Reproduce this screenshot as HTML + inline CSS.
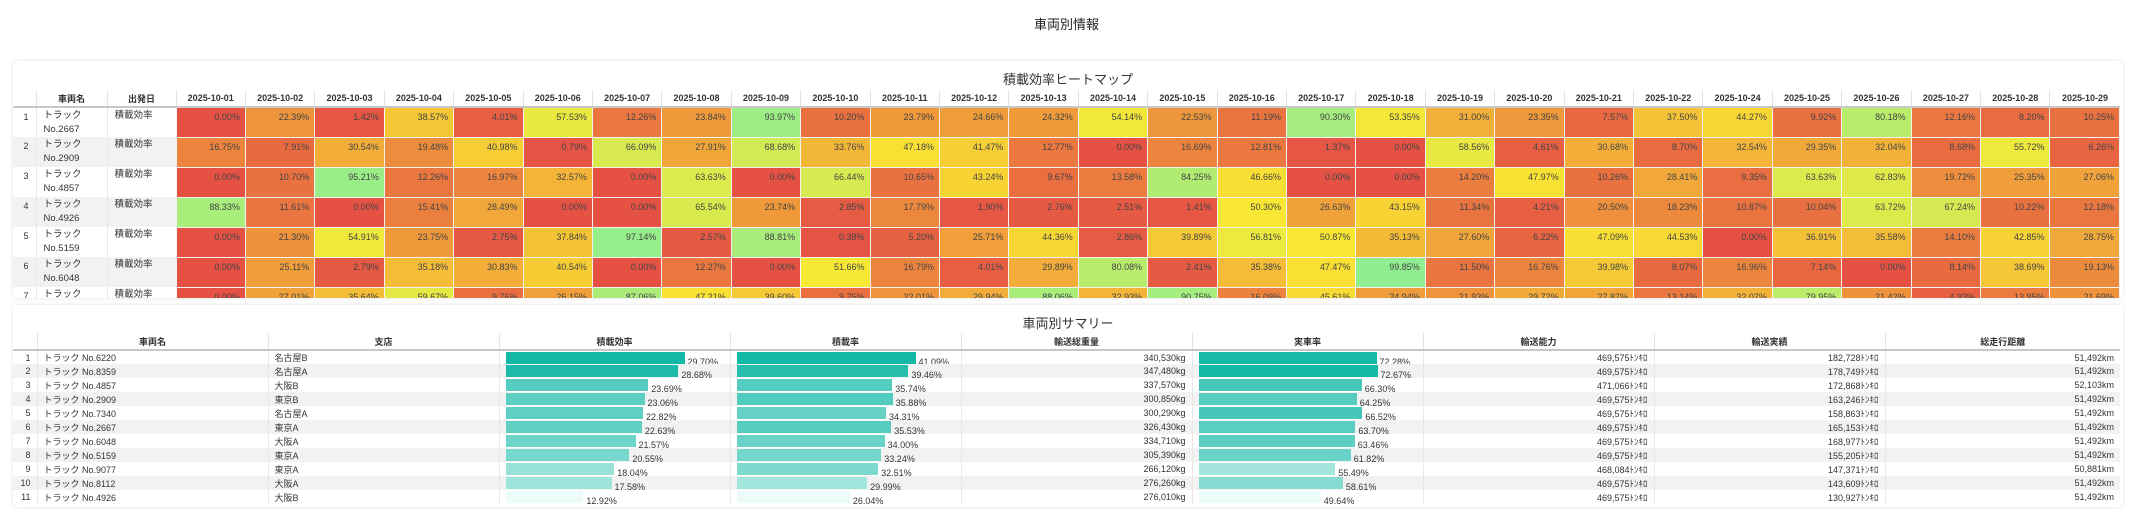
<!DOCTYPE html>
<html><head><meta charset="utf-8">
<style>
*{margin:0;padding:0;box-sizing:border-box}
body{width:2133px;height:520px;background:#fff;font-family:"Liberation Sans","Noto Sans CJK JP",sans-serif;color:#333;position:relative;overflow:hidden}
.title{position:absolute;top:14px;left:0;width:2133px;text-align:center;font-size:13px;color:#222}
.panel{position:absolute;left:13px;width:2110px;background:#fff;box-shadow:0 0 4px rgba(0,0,0,0.12);border-radius:3px;overflow:hidden}
.ptitle{position:absolute;top:8px;left:0;width:100%;text-align:center;font-size:13px;color:#333}
table{border-collapse:collapse;table-layout:fixed;position:absolute;left:0}
th{font-size:9px;font-weight:bold;color:#333;height:17px;border-left:1px solid #e4e4e4;border-bottom:2px solid #c8c8c8;text-align:center;vertical-align:middle}
th:first-child{border-left:none}
#hm tbody tr{height:30px}
#hm td{height:30px;font-size:9px;vertical-align:top;padding-top:4px;border:1px solid rgba(0,0,0,0.05);overflow:hidden}
#hm td.i{text-align:right;padding-right:7px;border:none}
#hm td.n{padding-left:7px;line-height:14px;padding-top:1px;border:none;border-left:1px solid #e8e8e8;font-size:9.5px}
#hm td.v{text-align:right;padding-right:5px;color:#444;line-height:11px}
#hm tr:nth-child(even) td.i,#hm tr:nth-child(even) td.n{background:#f2f2f2}
#sm td{height:14px;font-size:9px;vertical-align:middle;border-left:1px solid #e8e8e8;white-space:nowrap;overflow:hidden}
#sm td.i{text-align:right;padding-right:6px;border-left:none}
#sm td.t{padding-left:6px}
#sm td.r{text-align:right;padding-right:6px}
#sm tr:nth-child(even) td{background:#f2f2f2}
.b{display:inline-block;height:12px;vertical-align:middle;margin-left:6px}
.bl{display:inline-block;vertical-align:bottom;font-size:9px;margin-left:3px;line-height:10px;position:relative;top:3px}
</style></head><body>
<div class="title">車両別情報</div>

<div class="panel" style="top:61px;height:237px">
<div class="ptitle">積載効率ヒートマップ</div>
<table id="hm" style="top:29px;width:2107px">
<colgroup><col style="width:23px"><col style="width:71px"><col style="width:69px"></colgroup>
<thead><tr><th></th><th>車両名</th><th>出発日</th>
<th>2025-10-01</th><th>2025-10-02</th><th>2025-10-03</th><th>2025-10-04</th><th>2025-10-05</th><th>2025-10-06</th><th>2025-10-07</th><th>2025-10-08</th><th>2025-10-09</th><th>2025-10-10</th><th>2025-10-11</th><th>2025-10-12</th><th>2025-10-13</th><th>2025-10-14</th><th>2025-10-15</th><th>2025-10-16</th><th>2025-10-17</th><th>2025-10-18</th><th>2025-10-19</th><th>2025-10-20</th><th>2025-10-21</th><th>2025-10-22</th><th>2025-10-24</th><th>2025-10-25</th><th>2025-10-26</th><th>2025-10-27</th><th>2025-10-28</th><th>2025-10-29</th></tr></thead>
<tbody>
<tr><td class="i">1</td><td class="n">トラック<br>No.2667</td><td class="n">積載効率</td><td class="v">0.00%</td><td class="v">22.39%</td><td class="v">1.42%</td><td class="v">38.57%</td><td class="v">4.01%</td><td class="v">57.53%</td><td class="v">12.26%</td><td class="v">23.84%</td><td class="v">93.97%</td><td class="v">10.20%</td><td class="v">23.79%</td><td class="v">24.66%</td><td class="v">24.32%</td><td class="v">54.14%</td><td class="v">22.53%</td><td class="v">11.19%</td><td class="v">90.30%</td><td class="v">53.35%</td><td class="v">31.00%</td><td class="v">23.35%</td><td class="v">7.57%</td><td class="v">37.50%</td><td class="v">44.27%</td><td class="v">9.92%</td><td class="v">80.18%</td><td class="v">12.16%</td><td class="v">8.20%</td><td class="v">10.25%</td></tr>
<tr><td class="i">2</td><td class="n">トラック<br>No.2909</td><td class="n">積載効率</td><td class="v">16.75%</td><td class="v">7.91%</td><td class="v">30.54%</td><td class="v">19.48%</td><td class="v">40.98%</td><td class="v">0.79%</td><td class="v">66.09%</td><td class="v">27.91%</td><td class="v">68.68%</td><td class="v">33.76%</td><td class="v">47.18%</td><td class="v">41.47%</td><td class="v">12.77%</td><td class="v">0.00%</td><td class="v">16.69%</td><td class="v">12.81%</td><td class="v">1.37%</td><td class="v">0.00%</td><td class="v">58.56%</td><td class="v">4.61%</td><td class="v">30.68%</td><td class="v">8.70%</td><td class="v">32.54%</td><td class="v">29.35%</td><td class="v">32.04%</td><td class="v">8.68%</td><td class="v">55.72%</td><td class="v">6.26%</td></tr>
<tr><td class="i">3</td><td class="n">トラック<br>No.4857</td><td class="n">積載効率</td><td class="v">0.00%</td><td class="v">10.70%</td><td class="v">95.21%</td><td class="v">12.26%</td><td class="v">16.97%</td><td class="v">32.57%</td><td class="v">0.00%</td><td class="v">63.63%</td><td class="v">0.00%</td><td class="v">66.44%</td><td class="v">10.65%</td><td class="v">43.24%</td><td class="v">9.67%</td><td class="v">13.58%</td><td class="v">84.25%</td><td class="v">46.66%</td><td class="v">0.00%</td><td class="v">0.00%</td><td class="v">14.20%</td><td class="v">47.97%</td><td class="v">10.26%</td><td class="v">28.41%</td><td class="v">9.35%</td><td class="v">63.63%</td><td class="v">62.83%</td><td class="v">19.72%</td><td class="v">25.35%</td><td class="v">27.06%</td></tr>
<tr><td class="i">4</td><td class="n">トラック<br>No.4926</td><td class="n">積載効率</td><td class="v">88.33%</td><td class="v">11.61%</td><td class="v">0.00%</td><td class="v">15.41%</td><td class="v">28.49%</td><td class="v">0.00%</td><td class="v">0.00%</td><td class="v">65.54%</td><td class="v">23.74%</td><td class="v">2.85%</td><td class="v">17.79%</td><td class="v">1.90%</td><td class="v">2.76%</td><td class="v">2.51%</td><td class="v">1.41%</td><td class="v">50.30%</td><td class="v">26.63%</td><td class="v">43.15%</td><td class="v">11.34%</td><td class="v">4.21%</td><td class="v">20.50%</td><td class="v">18.23%</td><td class="v">10.87%</td><td class="v">10.04%</td><td class="v">63.72%</td><td class="v">67.24%</td><td class="v">10.22%</td><td class="v">12.18%</td></tr>
<tr><td class="i">5</td><td class="n">トラック<br>No.5159</td><td class="n">積載効率</td><td class="v">0.00%</td><td class="v">21.30%</td><td class="v">54.91%</td><td class="v">23.75%</td><td class="v">2.75%</td><td class="v">37.84%</td><td class="v">97.14%</td><td class="v">2.57%</td><td class="v">88.81%</td><td class="v">0.38%</td><td class="v">5.20%</td><td class="v">25.71%</td><td class="v">44.36%</td><td class="v">2.86%</td><td class="v">39.89%</td><td class="v">56.81%</td><td class="v">50.87%</td><td class="v">35.13%</td><td class="v">27.60%</td><td class="v">6.22%</td><td class="v">47.09%</td><td class="v">44.53%</td><td class="v">0.00%</td><td class="v">36.91%</td><td class="v">35.58%</td><td class="v">14.10%</td><td class="v">42.85%</td><td class="v">28.75%</td></tr>
<tr><td class="i">6</td><td class="n">トラック<br>No.6048</td><td class="n">積載効率</td><td class="v">0.00%</td><td class="v">25.11%</td><td class="v">2.79%</td><td class="v">35.18%</td><td class="v">30.83%</td><td class="v">40.54%</td><td class="v">0.00%</td><td class="v">12.27%</td><td class="v">0.00%</td><td class="v">51.66%</td><td class="v">16.79%</td><td class="v">4.01%</td><td class="v">29.89%</td><td class="v">80.08%</td><td class="v">2.41%</td><td class="v">35.38%</td><td class="v">47.47%</td><td class="v">99.85%</td><td class="v">11.50%</td><td class="v">16.76%</td><td class="v">39.98%</td><td class="v">8.07%</td><td class="v">16.96%</td><td class="v">7.14%</td><td class="v">0.00%</td><td class="v">8.14%</td><td class="v">38.69%</td><td class="v">19.13%</td></tr>
<tr><td class="i">7</td><td class="n">トラック<br>No.6220</td><td class="n">積載効率</td><td class="v">0.00%</td><td class="v">27.01%</td><td class="v">35.64%</td><td class="v">59.67%</td><td class="v">9.76%</td><td class="v">26.15%</td><td class="v">87.06%</td><td class="v">47.21%</td><td class="v">39.60%</td><td class="v">9.75%</td><td class="v">22.01%</td><td class="v">29.94%</td><td class="v">88.06%</td><td class="v">32.93%</td><td class="v">90.75%</td><td class="v">16.09%</td><td class="v">45.61%</td><td class="v">24.94%</td><td class="v">21.93%</td><td class="v">29.72%</td><td class="v">27.87%</td><td class="v">13.14%</td><td class="v">32.07%</td><td class="v">79.95%</td><td class="v">21.42%</td><td class="v">4.93%</td><td class="v">13.95%</td><td class="v">21.69%</td></tr>
</tbody></table>
</div>

<div class="panel" style="top:305px;height:202px">
<div class="ptitle">車両別サマリー</div>
<table id="sm" style="top:28px;width:2107px">
<colgroup><col style="width:24px"><col style="width:231px"><col style="width:231px"><col style="width:231px"><col style="width:231px"><col style="width:231px"><col style="width:231px"><col style="width:231px"><col style="width:231px"><col style="width:235px"></colgroup>
<thead><tr><th></th><th>車両名</th><th>支店</th><th>積載効率</th><th>積載率</th><th>輸送総重量</th><th>実車率</th><th>輸送能力</th><th>輸送実績</th><th>総走行距離</th></tr></thead>
<tbody>
<tr><td class="i">1</td><td class="t">トラック No.6220</td><td class="t">名古屋B</td><td class="a">29.70%</td><td class="c">41.09%</td><td class="r">340,530kg</td><td class="d">72.28%</td><td class="r">469,575ﾄﾝｷﾛ</td><td class="r">182,728ﾄﾝｷﾛ</td><td class="r">51,492km</td></tr>
<tr><td class="i">2</td><td class="t">トラック No.8359</td><td class="t">名古屋A</td><td class="a">28.68%</td><td class="c">39.46%</td><td class="r">347,480kg</td><td class="d">72.67%</td><td class="r">469,575ﾄﾝｷﾛ</td><td class="r">178,749ﾄﾝｷﾛ</td><td class="r">51,492km</td></tr>
<tr><td class="i">3</td><td class="t">トラック No.4857</td><td class="t">大阪B</td><td class="a">23.69%</td><td class="c">35.74%</td><td class="r">337,570kg</td><td class="d">66.30%</td><td class="r">471,066ﾄﾝｷﾛ</td><td class="r">172,868ﾄﾝｷﾛ</td><td class="r">52,103km</td></tr>
<tr><td class="i">4</td><td class="t">トラック No.2909</td><td class="t">東京B</td><td class="a">23.06%</td><td class="c">35.88%</td><td class="r">300,850kg</td><td class="d">64.25%</td><td class="r">469,575ﾄﾝｷﾛ</td><td class="r">163,246ﾄﾝｷﾛ</td><td class="r">51,492km</td></tr>
<tr><td class="i">5</td><td class="t">トラック No.7340</td><td class="t">名古屋A</td><td class="a">22.82%</td><td class="c">34.31%</td><td class="r">300,290kg</td><td class="d">66.52%</td><td class="r">469,575ﾄﾝｷﾛ</td><td class="r">158,863ﾄﾝｷﾛ</td><td class="r">51,492km</td></tr>
<tr><td class="i">6</td><td class="t">トラック No.2667</td><td class="t">東京A</td><td class="a">22.63%</td><td class="c">35.53%</td><td class="r">326,430kg</td><td class="d">63.70%</td><td class="r">469,575ﾄﾝｷﾛ</td><td class="r">165,153ﾄﾝｷﾛ</td><td class="r">51,492km</td></tr>
<tr><td class="i">7</td><td class="t">トラック No.6048</td><td class="t">大阪A</td><td class="a">21.57%</td><td class="c">34.00%</td><td class="r">334,710kg</td><td class="d">63.46%</td><td class="r">469,575ﾄﾝｷﾛ</td><td class="r">168,977ﾄﾝｷﾛ</td><td class="r">51,492km</td></tr>
<tr><td class="i">8</td><td class="t">トラック No.5159</td><td class="t">東京A</td><td class="a">20.55%</td><td class="c">33.24%</td><td class="r">305,390kg</td><td class="d">61.82%</td><td class="r">469,575ﾄﾝｷﾛ</td><td class="r">155,205ﾄﾝｷﾛ</td><td class="r">51,492km</td></tr>
<tr><td class="i">9</td><td class="t">トラック No.9077</td><td class="t">東京A</td><td class="a">18.04%</td><td class="c">32.51%</td><td class="r">266,120kg</td><td class="d">55.49%</td><td class="r">468,084ﾄﾝｷﾛ</td><td class="r">147,371ﾄﾝｷﾛ</td><td class="r">50,881km</td></tr>
<tr><td class="i">10</td><td class="t">トラック No.8112</td><td class="t">大阪A</td><td class="a">17.58%</td><td class="c">29.99%</td><td class="r">276,260kg</td><td class="d">58.61%</td><td class="r">469,575ﾄﾝｷﾛ</td><td class="r">143,609ﾄﾝｷﾛ</td><td class="r">51,492km</td></tr>
<tr><td class="i">11</td><td class="t">トラック No.4926</td><td class="t">大阪B</td><td class="a">12.92%</td><td class="c">26.04%</td><td class="r">276,010kg</td><td class="d">49.64%</td><td class="r">469,575ﾄﾝｷﾛ</td><td class="r">130,927ﾄﾝｷﾛ</td><td class="r">51,492km</td></tr>
</tbody></table>
</div>

<script>
function lerp(a,b,t){return [0,1,2].map(function(i){return Math.round(a[i]+(b[i]-a[i])*t)})}
var R=[229,82,68],Y=[250,232,50],G=[144,238,144];
document.querySelectorAll('#hm td.v').forEach(function(td){
 var v=parseFloat(td.textContent);var c=v<50?lerp(R,Y,v/50):lerp(Y,G,(v-50)/50);
 td.style.background='rgb('+c.join(',')+')';
});
var L=[236,252,249],D=[20,184,166];
['a','c','d'].forEach(function(cls){
 var tds=[].slice.call(document.querySelectorAll('#sm td.'+cls));
 var vals=tds.map(function(t){return parseFloat(t.textContent)});
 var mx=Math.max.apply(null,vals),mn=Math.min.apply(null,vals);
 tds.forEach(function(td,i){
  var v=vals[i],t=(v-mn)/(mx-mn);var c=lerp(L,D,Math.pow(t,0.8));
  var txt=td.textContent;
  td.innerHTML='<span class="b" style="width:'+(v/mx*179).toFixed(1)+'px;background:rgb('+c.join(',')+')"></span><span class="bl">'+txt+'</span>';
 });
});
</script>
</body></html>
